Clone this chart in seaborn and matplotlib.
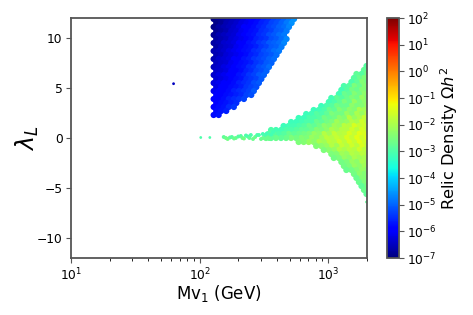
import numpy as np
import pandas as pd
import matplotlib
matplotlib.use("Agg")
import matplotlib.pyplot as plt
import seaborn as sns
from matplotlib.cm import ScalarMappable
from matplotlib.colors import LogNorm

# mass columns (GeV), staggered so that neighbouring rows interlock
blue_cols_a = [128.5, 140.6, 154, 168.6, 184.5, 202, 221, 241.5, 264, 289, 316, 346, 378, 414, 453, 495, 542]
blue_cols_b = [134.5, 147, 161, 176, 193, 211, 231, 252, 276, 302, 331, 362, 396, 433, 474, 519]
green_cols_a = [1982, 1811, 1655, 1512, 1382, 1263, 1155, 1055, 964, 881, 805, 736, 673, 615, 562, 514, 470, 429, 392, 359, 328]
green_cols_b = [1893, 1730, 1582, 1445, 1321, 1208, 1104, 1009, 922, 843, 770, 704, 644, 588, 538, 491, 449, 410, 375, 343]

blue_lam = [11.9, 11.5, 11.1, 10.7, 10.3, 9.9, 9.5, 9.1, 8.7, 8.3, 7.9, 7.5, 7.1,
            6.7, 6.3, 5.9, 5.5, 5.1, 4.7, 4.3, 3.9, 3.5, 3.1, 2.7, 2.3]

# log10 of relic density, one row per lambda
blue_log_omega = [
    [-6.9, -6.8, -6.7, -6.6, -6.5, -6.4, -6.2, -6.0, -5.9, -5.8, -5.6, -5.5, -5.3, -5.2, -5.0, -4.8, -4.6],
    [-6.9, -6.8, -6.6, -6.5, -6.4, -6.2, -6.1, -5.9, -5.8, -5.6, -5.5, -5.3, -5.2, -5.0, -4.8, -4.6],
    [-6.9, -6.7, -6.6, -6.5, -6.4, -6.2, -6.0, -5.9, -5.8, -5.6, -5.5, -5.3, -5.2, -5.0, -4.9, -4.7],
    [-6.8, -6.7, -6.6, -6.4, -6.3, -6.1, -6.0, -5.8, -5.7, -5.5, -5.4, -5.3, -5.1, -5.0, -4.8],
    [-6.8, -6.6, -6.5, -6.4, -6.3, -6.1, -6.0, -5.8, -5.7, -5.5, -5.4, -5.2, -5.1, -4.9, -4.8],
    [-6.7, -6.6, -6.5, -6.3, -6.2, -6.1, -5.9, -5.8, -5.6, -5.5, -5.4, -5.2, -5.1, -4.9, -4.7],
    [-6.7, -6.6, -6.4, -6.3, -6.2, -6.0, -5.9, -5.7, -5.6, -5.4, -5.3, -5.1, -5.0, -4.9, -4.7],
    [-6.7, -6.5, -6.4, -6.3, -6.1, -6.0, -5.8, -5.7, -5.6, -5.4, -5.3, -5.1, -5.0, -4.8],
    [-6.6, -6.5, -6.4, -6.2, -6.1, -6.0, -5.8, -5.7, -5.5, -5.4, -5.2, -5.1, -4.9, -4.8],
    [-6.6, -6.5, -6.3, -6.2, -6.1, -5.9, -5.8, -5.6, -5.5, -5.3, -5.2, -5.1, -4.9],
    [-6.6, -6.4, -6.3, -6.2, -6.0, -5.9, -5.7, -5.6, -5.4, -5.3, -5.2, -5.0, -4.9],
    [-6.5, -6.4, -6.3, -6.1, -6.0, -5.8, -5.7, -5.6, -5.4, -5.3, -5.1, -5.0],
    [-6.5, -6.4, -6.2, -6.1, -6.0, -5.8, -5.7, -5.5, -5.4, -5.2, -5.1, -4.9],
    [-6.4, -6.3, -6.2, -6.0, -5.9, -5.8, -5.6, -5.5, -5.3, -5.2, -5.0],
    [-6.4, -6.2, -6.1, -6.0, -5.9, -5.7, -5.6, -5.4, -5.3, -5.1, -5.0],
    [-6.3, -6.2, -6.1, -5.9, -5.8, -5.7, -5.5, -5.4, -5.3, -5.1],
    [-6.2, -6.1, -6.0, -5.9, -5.8, -5.6, -5.5, -5.4, -5.2, -5.1],
    [-6.2, -6.0, -5.9, -5.8, -5.7, -5.6, -5.4, -5.3, -5.2],
    [-6.1, -6.0, -5.9, -5.8, -5.6, -5.5, -5.4, -5.3, -5.1],
    [-6.0, -5.9, -5.8, -5.7, -5.6, -5.5, -5.3, -5.2],
    [-6.0, -5.9, -5.8, -5.6, -5.5, -5.4, -5.3],
    [-5.9, -5.8, -5.7, -5.6, -5.5],
    [-5.9, -5.8, -5.7, -5.5, -5.4],
    [-5.8, -5.7, -5.6],
    [-5.8, -5.7],
]

green_lam = [7.2, 6.8, 6.4, 6.0, 5.6, 5.2, 4.8, 4.4, 4.0, 3.6, 3.2, 2.8, 2.4, 2.0, 1.6, 1.2, 0.8,
             0.4, 0.0, -0.4, -0.8, -1.2, -1.6, -2.0, -2.4, -2.8, -3.2, -3.6, -4.0, -4.4, -4.8, -5.2, -5.6]

green_log_omega = [
    [-2.9],
    [-2.8],
    [-2.6, -2.9, -2.8],
    [-2.5, -2.7, -2.9],
    [-2.6, -2.4, -2.8, -3.0],
    [-2.4, -2.7, -2.5, -2.9, -3.0],
    [-2.5, -2.4, -2.7, -2.6, -2.9, -3.1],
    [-2.3, -2.6, -2.4, -2.8, -2.7, -3.1],
    [-2.4, -2.2, -2.6, -2.5, -2.7, -2.9, -2.8, -3.1],
    [-2.3, -2.5, -2.2, -2.7, -2.5, -2.8, -3.0, -3.1],
    [-2.2, -2.4, -2.5, -2.3, -2.7, -2.7, -2.6, -2.9, -3.0, -3.2],
    [-2.1, -2.0, -2.4, -2.3, -2.6, -2.4, -2.8, -2.7, -3.0, -3.1, -3.2],
    [-1.9, -2.2, -2.0, -2.4, -2.2, -2.6, -2.6, -2.5, -2.8, -3.0, -2.9, -3.1, -3.2],
    [-1.7, -2.0, -2.2, -1.9, -2.4, -2.3, -2.6, -2.7, -2.6, -2.9, -3.0, -3.0, -3.2, -3.2],
    [-1.8, -1.6, -2.0, -1.9, -2.2, -2.3, -2.1, -2.5, -2.6, -2.8, -2.7, -3.0, -3.0, -3.1, -3.2, -3.2],
    [-1.6, -1.7, -1.5, -1.9, -1.8, -2.2, -2.1, -2.4, -2.3, -2.6, -2.8, -2.7, -2.9, -3.0, -3.1, -3.1, -3.2],
    [-1.7, -1.5, -1.8, -1.6, -1.9, -1.9, -2.1, -2.0, -2.3, -2.5, -2.4, -2.7, -2.8, -2.8, -2.9, -3.0, -3.0, -3.1, -3.1, -3.0],
    [-1.5, -1.4, -1.7, -1.5, -1.8, -1.9, -1.7, -2.1, -1.9, -2.3, -2.2, -2.5, -2.6, -2.7, -2.8, -2.7, -2.9, -3.0, -2.9, -2.9],
    [-1.4, -1.6, -1.4, -1.7, -1.5, -1.8, -1.7, -1.9, -1.8, -2.1, -2.3, -2.2, -2.5, -2.4, -2.6, -2.5, -2.7, -2.8, -2.7, -2.8, -2.7],
    [-1.6, -1.4, -1.7, -1.5, -1.8, -1.6, -1.9, -1.8, -2.1, -2.0, -2.3, -2.2, -2.4, -2.5],
    [-1.7, -1.5, -1.8, -1.6, -1.9, -1.7, -2.1, -1.9, -2.2, -2.3, -2.4],
    [-1.8, -1.6, -1.9, -1.8, -2.0, -1.9, -2.2, -2.3, -2.5],
    [-1.9, -1.8, -2.0, -1.9, -2.2, -2.1, -2.4, -2.5],
    [-2.0, -2.1, -2.0, -2.3, -2.2, -2.5, -2.6],
    [-2.1, -2.0, -2.3, -2.2, -2.5, -2.6],
    [-2.1, -2.3, -2.2, -2.5, -2.6],
    [-2.3, -2.2, -2.4, -2.6, -2.7],
    [-2.4, -2.3, -2.6],
    [-2.4, -2.4, -2.7],
    [-2.5, -2.7],
    [-2.6, -2.8],
    [-2.7],
    [-2.8],
]

# tail of the lower band, reaching towards lighter masses
tail_mass = [154, 160, 165, 172, 178, 185, 191, 200, 209, 215, 221, 229, 237, 244, 250, 260, 270, 280, 289, 300, 310, 310, 322, 333, 346, 359, 372]
tail_lam = [0.1, 0.0, -0.1, 0.05, 0.1, -0.05, 0.0, 0.15, 0.2, 0.0, -0.05, 0.25, 0.15, 0.0, 0.3, -0.1, 0.1, 0.3, 0.3, -0.1, 0.0, 0.4, 0.3, 0.45, -0.1, 0.35, 0.6]
tail_log_omega = [-2.8, -2.7, -2.6, -2.8, -2.9, -2.7, -2.7, -2.9, -2.9, -2.7, -2.6, -3.0, -3.0, -2.8, -3.0, -2.7, -2.7, -3.0, -3.0, -2.7, -2.7, -3.1, -3.0, -3.1, -2.7, -3.1, -3.1]

# the few points that stand alone
lone_mass = [62.7, 102, 120, 1982]
lone_lam = [5.43, 0.05, 0.05, -6.4]
lone_log_omega = [-6.5, -3.0, -3.0, -2.8]

tick_powers = [-7, -6, -5, -4, -3, -2, -1, 0, 1, 2]


def rows_to_frame(lams, rows, cols_a, cols_b):
    records = []
    for i, (lam, row) in enumerate(zip(lams, rows)):
        cols = cols_a if i % 2 == 0 else cols_b
        for m, v in zip(cols, row):
            records.append((m, lam, 10.0 ** v))
    return pd.DataFrame(records, columns=["mass", "lam", "omega"])


def points_to_frame(mass, lam, log_omega):
    return pd.DataFrame({"mass": mass, "lam": lam, "omega": 10.0 ** np.array(log_omega)})


blue = rows_to_frame(blue_lam, blue_log_omega, blue_cols_a, blue_cols_b)
green = rows_to_frame(green_lam, green_log_omega, green_cols_a, green_cols_b)
tail = points_to_frame(tail_mass, tail_lam, tail_log_omega)
lone = points_to_frame(lone_mass, lone_lam, lone_log_omega)

jet = plt.get_cmap("jet")
norm = LogNorm(vmin=1e-7, vmax=1e2)
W, H = 473, 315

fig = plt.figure(figsize=(W / 100, H / 100), dpi=100)
ax = fig.add_axes([71 / W, 1 - 258 / H, 296 / W, 240 / H])

for frame, size in [(blue, 20), (green, 20), (tail, 8), (lone, 4)]:
    sns.scatterplot(data=frame, x="mass", y="lam", hue="omega", hue_norm=norm, palette=jet,
                    s=size, linewidth=0, legend=False, ax=ax)

ax.set_xscale("log")
ax.set_xlim(10, 2000)
ax.set_ylim(-12, 12)
ax.set_yticks([-10, -5, 0, 5, 10])
ax.set_xlabel("Mv$_1$ (GeV)", fontsize=12, labelpad=0)
ax.set_ylabel(r"$\lambda_L$", fontsize=17, labelpad=-3)
ax.tick_params(labelsize=8.8, color="#555555", pad=2.5)
for spine in ax.spines.values():
    spine.set_color("#555555")
    spine.set_linewidth(1.3)

cax = fig.add_axes([387 / W, 1 - 258 / H, 12 / W, 240 / H])
cbar = fig.colorbar(ScalarMappable(norm=norm, cmap=jet), cax=cax)
cbar.set_ticks([10.0 ** p for p in tick_powers])
cbar.ax.minorticks_off()
cbar.ax.tick_params(labelsize=8.8, color="#555555", pad=2.5)
cbar.outline.set_edgecolor("#555555")
cbar.outline.set_linewidth(1.3)
cbar.set_label(r"Relic Density $\Omega h^2$", fontsize=11.7, labelpad=1)

fig.savefig("out.png", dpi=100)
